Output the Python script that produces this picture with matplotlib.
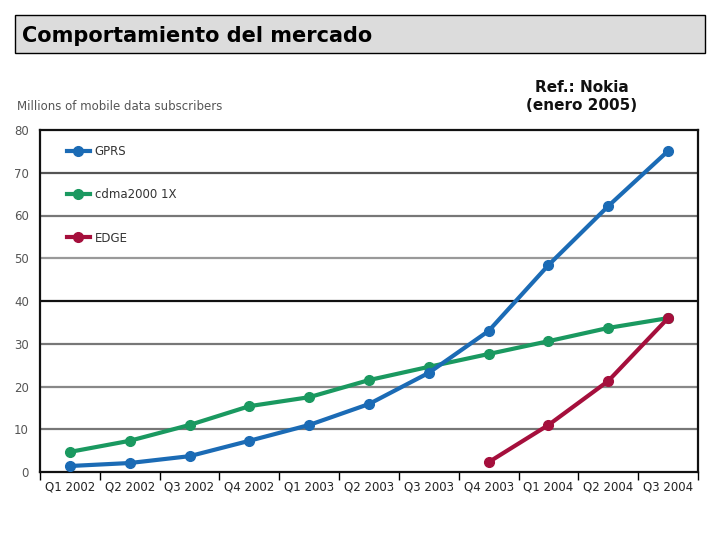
import matplotlib.pyplot as plt
from matplotlib.patches import Rectangle

# Data (millions of subscribers)
quarters = ['Q1 2002', 'Q2 2002', 'Q3 2002', 'Q4 2002', 'Q1 2003', 'Q2 2003',
            'Q3 2003', 'Q4 2003', 'Q1 2004', 'Q2 2004', 'Q3 2004']
gprs = [1.4, 2.1, 3.7, 7.3, 11.0, 15.9, 23.2, 33.0, 48.4, 62.2, 75.1]
cdma = [4.7, 7.3, 11.0, 15.4, 17.5, 21.5, 24.6, 27.6, 30.6, 33.7, 36.0]
edge_start = 7
edge = [2.3, 11.0, 21.3, 36.0]
yticks = [0, 10, 20, 30, 40, 50, 60, 70, 80]


def main():
    fig = plt.figure(figsize=(7.2, 5.4), dpi=100)

    # Title box
    fig.patches.append(Rectangle((15 / 720, 1 - 53 / 540), 690 / 720, 38 / 540,
                                 transform=fig.transFigure, facecolor='#dcdcdc',
                                 edgecolor='black', linewidth=1))
    fig.text(22 / 720, 1 - 36 / 540, 'Comportamiento del mercado',
             fontsize=15, fontweight='bold', va='center', ha='left')

    fig.text(582 / 720, 1 - 97 / 540, 'Ref.: Nokia\n(enero 2005)',
             fontsize=11, fontweight='semibold', ha='center', va='center',
             linespacing=1.25, color='#111111')

    fig.text(17 / 720, 1 - 106 / 540, 'Millions of mobile data subscribers',
             fontsize=8.5, color='#555555', ha='left', va='center')

    ax = fig.add_axes([40 / 720, 1 - 472 / 540, 658 / 720, 342 / 540])
    x = list(range(len(quarters)))

    # grid lines
    grid_colors = {10: '#777777', 20: '#888888', 30: '#777777', 40: '#111111',
                   50: '#999999', 60: '#777777', 70: '#555555'}
    for v, c in grid_colors.items():
        ax.axhline(v, color=c, linewidth=1.6, zorder=1)

    ax.plot(x, gprs, color='#1b6bb5', lw=3, marker='o', ms=7,
            label='GPRS', zorder=3)
    ax.plot(x, cdma, color='#1a9960', lw=3, marker='o', ms=7,
            label='cdma2000 1X', zorder=2)
    ax.plot(x[edge_start:], edge, color='#a50f3c', lw=3, marker='o', ms=7,
            label='EDGE', zorder=3)

    ax.set_xlim(-0.5, len(quarters) - 0.5)
    ax.set_ylim(0, 80)
    ax.set_xticks(x)
    ax.set_xticklabels(quarters, fontsize=8.5, color='#222222')
    ax.set_xticks([i - 0.5 for i in range(len(quarters) + 1)], minor=True)
    ax.tick_params(axis='x', which='major', length=0, pad=6)
    ax.tick_params(axis='x', which='minor', length=6, width=1, direction='out')
    ax.set_yticks(yticks)
    ax.set_yticklabels([str(v) for v in yticks], fontsize=8.5, color='#555555')
    ax.tick_params(axis='y', length=0, pad=8)

    for s in ax.spines.values():
        s.set_linewidth(1.6)
        s.set_color('#111111')

    ax.legend(loc='upper left', frameon=False, fontsize=8.5, numpoints=1,
              handlelength=2.0, labelspacing=2.55, borderaxespad=0.9,
              borderpad=0.4, handletextpad=0.4, labelcolor='#333333',
              bbox_to_anchor=(0.017, 1.0))

    fig.savefig('out.png', dpi=100)


if __name__ == '__main__':
    main()
